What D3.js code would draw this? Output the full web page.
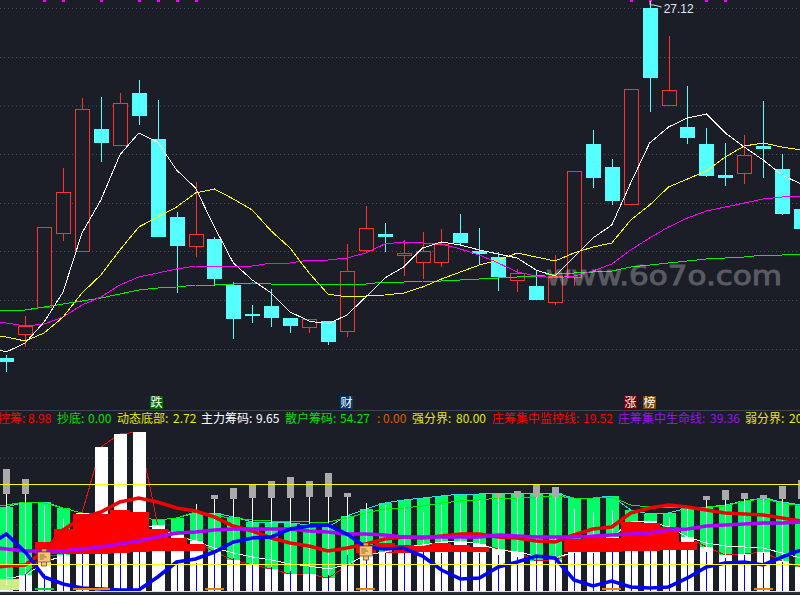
<!DOCTYPE html>
<html>
<head>
<meta charset="utf-8">
<script src="https://cdnjs.cloudflare.com/ajax/libs/d3/7.8.5/d3.min.js"></script>
<style>
html, body { margin: 0; padding: 0; background: #1b1e27; overflow: hidden; }
svg { display: block; }
</style>
</head>
<body>
<script>
// candles, one per day
var opens = [19.98,20.46,21.00,22.48,22.12,24.56,24.24,25.28,24.36,22.80,22.22,22.36,21.44,20.86,21.02,20.78,20.60,20.72,20.52,22.14,22.46,22.04,21.90,21.90,22.48,22.12,22.00,21.54,21.42,21.10,21.60,24.26,23.80,23.06,26.98,25.04,24.60,24.26,23.64,23.68,24.22,23.76,22.96];
var closes = [19.90,20.62,22.60,23.30,24.96,24.28,25.08,24.82,22.40,22.22,22.46,21.56,20.76,20.82,20.78,20.62,20.76,20.30,21.72,22.58,22.40,22.08,22.12,22.26,22.28,22.06,21.60,21.68,21.14,21.62,23.72,23.58,23.12,25.36,25.58,25.34,24.38,23.62,23.58,24.04,24.16,22.86,22.56];
var highs = [20.04,20.82,22.60,23.78,25.18,25.20,25.28,25.54,25.14,22.90,23.50,22.40,21.50,21.04,21.36,20.78,20.76,20.72,22.26,23.02,22.68,22.34,22.50,22.56,22.86,22.58,22.10,21.76,21.72,22.04,23.72,24.54,23.96,25.36,27.12,26.42,25.42,24.58,24.28,24.44,25.12,24.06,22.96];
var lows = [19.70,20.20,21.00,22.32,22.12,23.90,24.24,24.64,22.40,21.28,22.00,21.42,20.36,20.68,20.60,20.48,20.48,20.24,20.40,22.10,22.10,21.62,21.56,21.80,22.24,21.86,21.32,21.30,21.14,21.04,21.42,23.38,23.04,23.06,24.90,25.04,24.26,23.60,23.42,23.46,23.58,22.84,22.56];

// moving averages, first value is the day before the left edge
var ma5 = [20.22,20.10,20.28,20.70,21.30,22.48,23.14,24.04,24.48,24.30,23.74,23.38,22.60,21.88,21.54,21.28,20.90,20.72,20.66,20.84,21.20,21.58,21.80,22.18,22.30,22.24,22.14,22.06,21.98,21.74,21.62,22.00,22.38,22.64,23.48,24.28,24.60,24.78,24.86,24.48,24.20,23.94,23.64,23.46];
var ma10 = [20.44,20.40,20.32,20.48,20.80,21.28,21.64,22.14,22.60,22.80,23.00,23.28,23.36,23.16,22.94,22.52,22.18,21.68,21.26,21.20,21.22,21.24,21.28,21.40,21.56,21.70,21.84,21.94,22.08,22.00,21.92,22.08,22.20,22.28,22.74,23.04,23.40,23.56,23.72,24.00,24.22,24.28,24.20,24.14];
var ma20 = [20.72,20.68,20.62,20.66,20.80,21.04,21.20,21.44,21.60,21.68,21.76,21.82,21.82,21.82,21.82,21.88,21.88,21.94,21.94,21.98,22.08,22.26,22.30,22.28,22.26,22.16,22.04,21.88,21.70,21.62,21.58,21.62,21.72,21.86,22.14,22.38,22.60,22.78,22.92,23.00,23.08,23.16,23.20,23.22];
var ma60 = [20.94,20.94,20.94,21.00,21.06,21.12,21.18,21.26,21.34,21.38,21.40,21.44,21.44,21.46,21.48,21.46,21.46,21.46,21.46,21.46,21.46,21.50,21.50,21.52,21.52,21.54,21.56,21.58,21.60,21.62,21.66,21.68,21.70,21.72,21.80,21.84,21.88,21.92,21.96,21.98,22.00,22.04,22.04,22.06];

var gridPrices = [26.98,26.00,25.03,24.06,23.08,22.12,21.14,20.16];
var markDays = [2,3,5,7,8,9,10,33,34,37,38];

// lower panel
var retailChips = [63,66.75,66.75,62.25,58.5,57.75,57,55.5,53.25,54.75,58.5,58.5,55.5,51.75,51.75,51,49.5,48,56.25,61.5,66,68.25,69.75,71.25,72.75,72.75,73.5,72.75,73.5,73.5,69.75,69.75,71.25,60.75,57.75,58.5,62.25,63,64.5,67.5,69.75,66.75,64.5];
var retailSlow = [63.75,64.5,66.75,66,62.25,58.5,57.75,57,55.5,53.25,54.75,59.25,56.25,54.75,53.25,52.5,52.5,51.75,51.75,54.75,58.5,61.5,62.25,63.75,66,67.5,68.25,69.75,69.75,70.5,71.25,69.75,69.75,70.5,64.5,63,62.25,63,63,63.75,67.5,69,66,63.75];
var mainChips = [4.5,12,27,27,58.5,108,117.75,119.25,49.5,42,37.5,29.25,23.25,19.5,16.5,12.75,12.75,9.75,18.75,27.75,28.5,29.25,33,36.75,37.5,35.25,31.5,29.25,22.5,23.25,29.25,42.75,40.5,51.75,52.5,48,40.5,33,27,27.75,29.25,22.5,18];
var mainStep = [9.75,11.25,21.75,26.25,38.25,45.75,49.5,49.5,48,41.25,37.5,32.25,28.5,25.5,23.25,20.25,18.75,16.5,19.5,27,29.25,33,34.5,36.75,37.5,35.25,30.75,29.25,26.25,24.75,29.25,42.75,40.5,51.75,52.5,48,40.5,36,33.75,33,32.25,28.5,24.75];
var blueSticks = [null,12.75,12.75,28.5,27.75,27.75,28.5,29.25,null,21,21,29.25,24.75,19.5,18,15,18,12,27,28.5,28.5,28.5,29.25,28.5,29.25,28.5,27,25.5,25.5,24.75,28.5,28.5,29.25,30,30,30.75,30.75,29.25,24.75,27,28.5,21.75,17.25];
var monitorLine = [17.25,18.75,19.5,30,45.75,54.75,59.25,66.75,69.75,66.75,62.25,60,55.5,48.75,45,39.75,36,33.75,30,32.25,35.25,39,40.5,39.75,41.25,42.75,42.75,40.5,39.75,37.5,36.75,42,46.5,48,58.5,62.25,64.5,63,60.75,58.5,57.75,57,54.75,52.5];
var lifeLine = [33,31.5,30,30,30,31.5,33,35.25,37.5,40.5,43.5,44.25,45.75,46.5,46.5,46.5,46.5,45,44.25,42.75,42.75,42,40.5,40.5,40.5,40.5,40.5,42,41.25,40.5,40.5,40.5,41.25,42,42.75,43.5,45.75,46.5,48.75,49.5,50.25,51,51,51.75];
var bottomLine = [33.75,42.75,29.25,10.5,5.25,2.25,1.5,0.75,0.75,10.5,21.75,24,29.25,36.75,39.75,40.5,46.5,48.75,49.5,42.75,33,31.5,32.25,26.25,15.75,9,9.75,18,21.75,26.25,24.75,8.25,3.75,7.5,3,2.25,3,9.75,18,21,21.75,19.5,25.5,30.75];

var grayDays = [0,1,11,12,13,14,15,16,17,18,26,27,28,29,37,38,39,40,41,42];
var grayHigh = [91.5,84,72,77.25,79.5,82.5,85.5,82.5,88.5,73.5,73.5,75,79.5,78,71.25,75.75,73.5,72,78.75,83.25];
var grayLow = [72.75,72.75,69,69,69.75,69.75,69.75,70.5,70.5,70.5,69.75,69.75,70.5,70.5,68.25,68.25,69,69,69,69];

var wickDays = [2,3,10,19,20,21,22,23,24,25,30,31,32,35,36];
var wickTops = [63.75,54,65.25,66,64.5,63,59.25,64.5,66,68.25,61.5,59.25,60.75,55.5,62.25];

var redDays = [2,3,4,5,6,7,8,9,10,19,20,21,22,23,24,25,30,31,32,33,34,35,36];
var redTops = [36.75,46.5,57.75,57.75,60.75,59.25,46.5,39.75,35.25,34.5,36,34.5,33.75,36,34.5,33,39,40.5,39.75,51.75,51,48,36.75];
var redBottoms = [27.75,27.75,27.75,27.75,28.5,29.25,30,30,30,28.5,31.5,28.5,29.25,29.25,29.25,29.25,29.25,29.25,29.25,30,30,30.75,30.75];

var bandLevels = [0,20,80];
var panelGrid = [100,50];
var orangeDays = [4,5,11,19,32,40];
var greenDays = [2];
var iconDays = [2,19];
var iconLevels = [25.5,30];

// legend row
var legendNames = ["控筹:","抄底:","动态底部:","主力筹码:","散户筹码:",":","强分界:","庄筹集中监控线:","庄筹集中生命线:","弱分界:"];
var legendValues = ["8.98","0.00","2.72","9.65","54.27","0.00","80.00","19.52","39.36","20.00"];
var legendColors = ["#ff0000","#00e000","#e8e800","#ffffff","#00e000","#e05a00","#e8e800","#ff0000","#9a10f0","#e8e800"];
var legendNameX = [-2,57,117,201,285,377,412,492,618,745];
var legendValueX = [28,88,173,256,340,383,456,583,710,789];

var banners = ["跌","财","涨","榜"];
var bannerColors = ["#006a00","#003a70","#780000","#7a4400"];
var bannerX = [150,340,624,643];

var bg = "#1b1e27";
var width = 800, height = 595;

var svg = d3.select("body").append("svg")
	.attr("width", width)
	.attr("height", height)
	.style("background", bg);

var x = d3.scaleLinear().domain([0, 42]).range([6.3, 801]);
var y = d3.scaleLinear().domain([27.14, 15.24]).range([0, 595]);
var v = d3.scaleLinear().domain([0, 100]).range([591, 457.67]);
var px = function(i){ return Math.round(x(i)); };

// dotted grid from the axes
var priceAxis = d3.axisLeft(y).tickValues(gridPrices).tickSize(-width).tickFormat("");
var panelAxis = d3.axisLeft(v).tickValues(panelGrid).tickSize(-width).tickFormat("");
[priceAxis, panelAxis].forEach(function(axis){
	var g = svg.append("g").call(axis);
	g.select(".domain").remove();
	g.selectAll("line")
		.attr("stroke", "#4a4e56")
		.attr("stroke-dasharray", "1 3");
});

svg.append("g").selectAll("rect").data(markDays).join("rect")
	.attr("x", function(d){ return px(d) - 1; })
	.attr("y", 0)
	.attr("width", 3)
	.attr("height", 2)
	.attr("fill", "#ff00ff");

// upper panel candles
var days = d3.range(opens.length);
var candles = svg.append("g").attr("shape-rendering", "crispEdges");
candles.selectAll("line").data(days).join("line")
	.attr("x1", function(d){ return px(d) + 0.5; })
	.attr("x2", function(d){ return px(d) + 0.5; })
	.attr("y1", function(d){ return y(highs[d]); })
	.attr("y2", function(d){ return y(lows[d]); })
	.attr("stroke", function(d){ return closes[d] >= opens[d] ? "#ff3232" : "#55ffff"; });
candles.selectAll("rect").data(days).join("rect")
	.attr("x", function(d){ return closes[d] >= opens[d] ? px(d) - 7 + 0.5 : px(d) - 7; })
	.attr("y", function(d){ return y(Math.max(opens[d], closes[d])); })
	.attr("width", function(d){ return closes[d] >= opens[d] ? 14 : 15; })
	.attr("height", function(d){ return Math.abs(y(opens[d]) - y(closes[d])); })
	.attr("fill", function(d){ return closes[d] >= opens[d] ? bg : "#55ffff"; })
	.attr("stroke", function(d){ return closes[d] >= opens[d] ? "#ff3232" : "none"; });

var priceLine = d3.line().x(function(d, i){ return x(i - 1); }).y(function(d){ return y(d); });
var panelLine = d3.line().x(function(d, i){ return x(i - 1); }).y(function(d){ return v(d); });
var dayLine = d3.line().x(function(d, i){ return x(i); }).y(function(d){ return v(d); });

[[ma60, "#00ee00"], [ma20, "#ff00ff"], [ma10, "#ffff00"], [ma5, "#ffffff"]].forEach(function(s){
	svg.append("path")
		.attr("d", priceLine(s[0]))
		.attr("fill", "none")
		.attr("stroke", s[1])
		.attr("stroke-width", 1)
		.attr("shape-rendering", "crispEdges");
});

// top price note
var hiX = x(34);
svg.append("path")
	.attr("d", "M" + (hiX + 0.5) + "," + y(27.12) + "V" + (y(27.12) + 4) + "H" + (hiX + 4) + "L" + (hiX + 12) + "," + (y(27.12) + 6))
	.attr("fill", "none")
	.attr("stroke", "#d8dde8");
svg.append("text")
	.attr("x", hiX + 14)
	.attr("y", 13)
	.attr("font-family", "Liberation Sans, Arial, sans-serif")
	.attr("font-size", 12)
	.attr("fill", "#dfe6f5")
	.text("27.12");

// watermark
svg.append("text")
	.attr("x", 546)
	.attr("y", 285)
	.attr("font-family", "DejaVu Sans, sans-serif")
	.attr("font-size", 27)
	.attr("textLength", 236)
	.attr("lengthAdjust", "spacingAndGlyphs")
	.attr("fill", "#ffffff")
	.attr("stroke", "#ffffff")
	.attr("stroke-width", 0.9)
	.attr("opacity", 0.27)
	.text("www.6o7o.com");

// banners over the legend
var bannerG = svg.append("g");
bannerG.selectAll("rect").data(banners).join("rect")
	.attr("x", function(d, i){ return bannerX[i]; })
	.attr("y", 396)
	.attr("width", 13)
	.attr("height", 13)
	.attr("fill", function(d, i){ return bannerColors[i]; });
bannerG.selectAll("text").data(banners).join("text")
	.attr("x", function(d, i){ return bannerX[i] + 0.5; })
	.attr("y", 407)
	.attr("font-family", "Noto Sans CJK SC")
	.attr("font-size", 12)
	.attr("fill", "#ffffff")
	.text(function(d){ return d; });

svg.append("line")
	.attr("x1", 0).attr("x2", width)
	.attr("y1", 410.5).attr("y2", 410.5)
	.attr("stroke", "#3d4450");

var legend = svg.append("g")
	.attr("font-family", "Noto Sans CJK SC")
	.attr("font-size", 12);
legendNames.forEach(function(name, i){
	legend.append("text")
		.attr("x", legendNameX[i]).attr("y", 423)
		.attr("fill", legendColors[i])
		.text(name);
	legend.append("text")
		.attr("x", legendValueX[i]).attr("y", 423)
		.attr("fill", legendColors[i])
		.text(legendValues[i]);
});

// lower panel, back to front
var low = svg.append("g");
low.append("g").attr("shape-rendering", "crispEdges").selectAll("rect").data(days).join("rect")
	.attr("x", function(d){ return px(d) - 6; })
	.attr("y", function(d){ return v(retailChips[d]); })
	.attr("width", 13)
	.attr("height", function(d){ return v(0) - v(retailChips[d]); })
	.attr("fill", "#00ff66");

low.append("path").attr("d", dayLine(retailChips)).attr("fill", "none").attr("stroke", "#33dddd").attr("shape-rendering", "crispEdges");
low.append("path").attr("d", panelLine(retailSlow)).attr("fill", "none").attr("stroke", "#00ee00").attr("shape-rendering", "crispEdges");
low.append("path").attr("d", dayLine(mainChips)).attr("fill", "none").attr("stroke", "#f01010").attr("shape-rendering", "crispEdges");

low.append("g").attr("shape-rendering", "crispEdges").selectAll("rect").data(days).join("rect")
	.attr("x", function(d){ return px(d) - 6; })
	.attr("y", function(d){ return v(mainChips[d]); })
	.attr("width", 13)
	.attr("height", function(d){ return v(0) - v(mainChips[d]); })
	.attr("fill", "#ffffff");

low.append("rect")
	.attr("x", 0).attr("width", x(0) + 13)
	.attr("y", v(9)).attr("height", v(0.75) - v(9))
	.attr("fill", "#ccee88");

low.append("path").attr("d", dayLine(mainStep)).attr("fill", "none").attr("stroke", "#ffffff").attr("shape-rendering", "crispEdges");

// white sticks under the gray boxes and the loose ones
var wicks = low.append("g").attr("shape-rendering", "crispEdges").attr("stroke", "#ffffff");
wicks.selectAll("line.gray").data(grayDays).join("line")
	.attr("class", "gray")
	.attr("x1", function(d){ return px(d) + 0.5; })
	.attr("x2", function(d){ return px(d) + 0.5; })
	.attr("y1", function(d, i){ return v(grayLow[i]); })
	.attr("y2", function(d){ return v(mainChips[d]); });
wicks.selectAll("line.loose").data(wickDays).join("line")
	.attr("class", "loose")
	.attr("x1", function(d){ return px(d) + 0.5; })
	.attr("x2", function(d){ return px(d) + 0.5; })
	.attr("y1", function(d, i){ return v(wickTops[i]); })
	.attr("y2", function(d){ return v(mainChips[d]); });

low.append("g").attr("shape-rendering", "crispEdges").selectAll("line")
	.data(days.filter(function(d){ return blueSticks[d] !== null; })).join("line")
	.attr("x1", function(d){ return px(d) + 0.5; })
	.attr("x2", function(d){ return px(d) + 0.5; })
	.attr("y1", function(d){ return v(blueSticks[d]); })
	.attr("y2", v(0))
	.attr("stroke", "#0000ff");

low.append("g").attr("shape-rendering", "crispEdges").selectAll("rect").data(redDays).join("rect")
	.attr("x", function(d){ return x(d - 0.5); })
	.attr("width", x(1) - x(0) + 0.5)
	.attr("y", function(d, i){ return v(redTops[i]); })
	.attr("height", function(d, i){ return v(redBottoms[i]) - v(redTops[i]); })
	.attr("fill", "#ff0000");

[[monitorLine, "#f00000"], [lifeLine, "#b000ff"], [bottomLine, "#0000ff"]].forEach(function(s){
	low.append("path")
		.attr("d", panelLine(s[0]))
		.attr("fill", "none")
		.attr("stroke", s[1])
		.attr("stroke-width", 3.6);
});

low.append("g").attr("shape-rendering", "crispEdges").selectAll("rect").data(grayDays).join("rect")
	.attr("x", function(d){ return px(d) - 3; })
	.attr("width", 7)
	.attr("y", function(d, i){ return v(grayHigh[i]); })
	.attr("height", function(d, i){ return v(grayLow[i]) - v(grayHigh[i]); })
	.attr("fill", "#aaaaaa");

[[orangeDays, "#f08000"], [greenDays, "#00d040"]].forEach(function(s){
	low.append("g").attr("shape-rendering", "crispEdges").selectAll("rect").data(s[0]).join("rect")
		.attr("x", function(d){ return x(d - 0.5); })
		.attr("width", x(1) - x(0))
		.attr("y", v(2.25))
		.attr("height", 2)
		.attr("fill", s[1]);
});

low.append("g").attr("shape-rendering", "crispEdges").selectAll("line").data(bandLevels).join("line")
	.attr("x1", 0).attr("x2", width)
	.attr("y1", function(d){ return v(d); })
	.attr("y2", function(d){ return v(d); })
	.attr("stroke", "#ffff00");

svg.append("line")
	.attr("x1", 0).attr("x2", width)
	.attr("y1", 593).attr("y2", 593)
	.attr("stroke", "#3d4450");

// little signposts
iconDays.forEach(function(d, i){
	var cx = x(d), cy = v(iconLevels[i]);
	var icon = svg.append("g").attr("transform", "translate(" + (cx - 6.5) + "," + (cy - 5) + ")");
	icon.append("rect").attr("x", 4).attr("y", -3).attr("width", 5).attr("height", 3)
		.attr("fill", "#e8a860").attr("stroke", "#5a3a10").attr("stroke-width", 0.5);
	icon.append("rect").attr("x", 4).attr("y", 9).attr("width", 5).attr("height", 5)
		.attr("fill", "#ffc47a").attr("stroke", "#5a3a10").attr("stroke-width", 0.7);
	icon.append("rect").attr("width", 13).attr("height", 10)
		.attr("fill", "#ffc47a").attr("stroke", "#5a3a10").attr("stroke-width", 0.7);
	icon.append("path").attr("d", "M2,3H7M2,5H9M2,7H6")
		.attr("stroke", "#7a5020").attr("stroke-width", 0.8).attr("fill", "none");
});
</script>
</body>
</html>
